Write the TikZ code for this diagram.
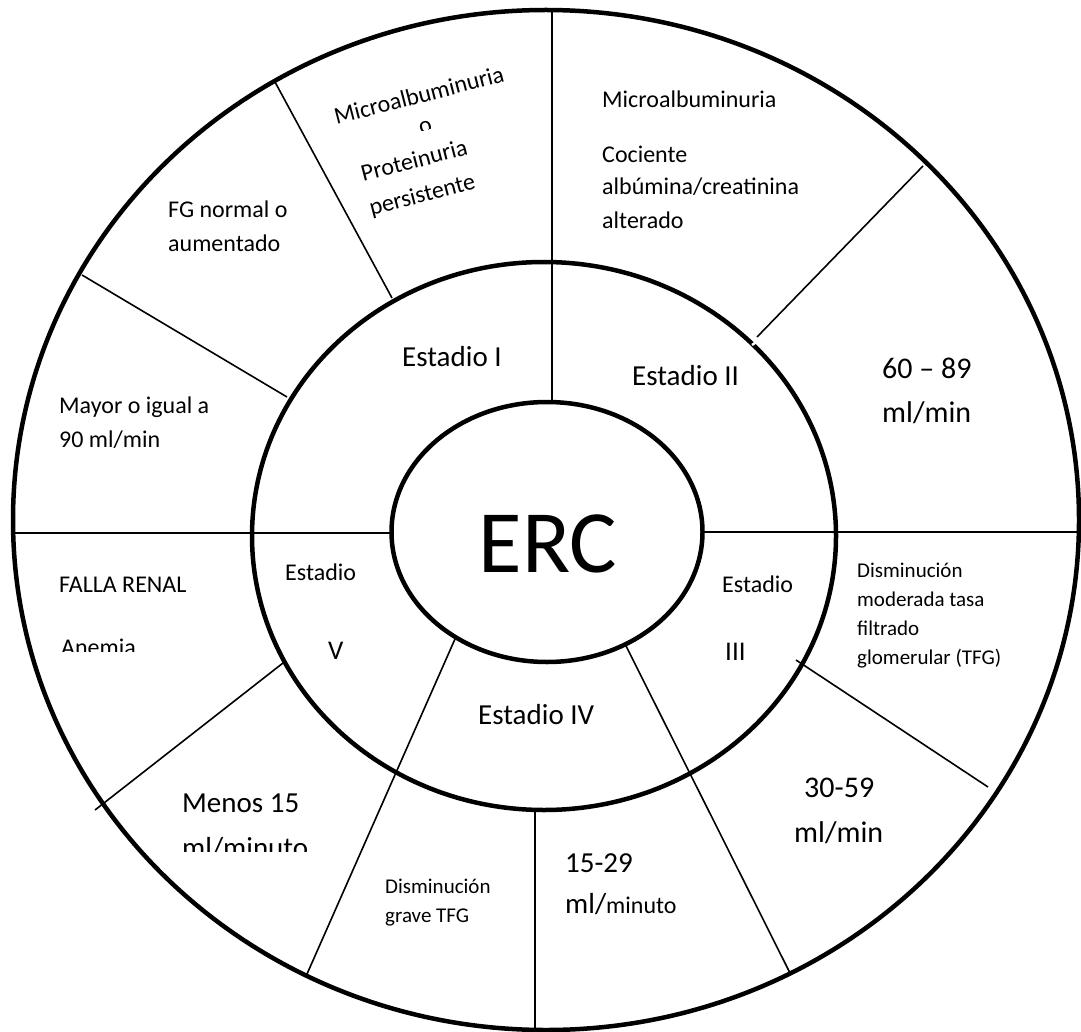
\documentclass[tikz,border=0pt]{standalone}
\usepackage{fontspec}
\setmainfont{Carlito}
\newcommand\fsz[1]{\fontsize{#1}{#1}\selectfont}
\begin{document}
\begin{tikzpicture}[x=1pt,y=-1pt,
  ring/.style={line width=4.5pt},
  spoke/.style={line width=1.6pt},
  txt/.style={anchor=base west, inner sep=0pt, font=\fsz{24}},
  txtbig/.style={txt, font=\fsz{30}},
  txtmid/.style={txt, font=\fsz{29}},
  txtnum/.style={txt, font=\fsz{27}},
  txtsmall/.style={txt, font=\fsz{21}},
  tilted/.style={anchor=base, inner sep=0pt, font=\fsz{24}, rotate=14.5}
]
\fill[white] (0,0) rectangle (1081,1032);
\useasboundingbox (0,0) rectangle (1081,1032);

% spoke end points
\coordinate (n0) at (552,10);    \coordinate (n1) at (552,402);
\coordinate (a0) at (275,82);    \coordinate (a1) at (392,298);
\coordinate (b0) at (82,275);    \coordinate (b1) at (287,397);
\coordinate (w0) at (13,533);    \coordinate (w1) at (392,533);
\coordinate (e0) at (702,532);   \coordinate (e1) at (1079,532);
\coordinate (ne0) at (923,166);  \coordinate (ne1) at (757,337);
\coordinate (se0) at (796,660);  \coordinate (se1) at (988,787);
\coordinate (s0) at (621,636);   \coordinate (s1) at (790,973);
\coordinate (d0) at (535,810);   \coordinate (d1) at (535,1030);
\coordinate (sw0) at (455,639);  \coordinate (sw1) at (307,974);
\coordinate (ww0) at (283,663);  \coordinate (ww1) at (95,810);

% radial dividers
\draw[spoke] (n0) -- (n1);
\draw[spoke] (a0) -- (a1);
\draw[spoke] (b0) -- (b1);
\draw[spoke] (w0) -- (w1);
\draw[spoke] (e0) -- (e1);
\draw[spoke] (ne0) -- (ne1);
\draw[spoke] (se0) -- (se1);
\draw[spoke] (s0) -- (s1);
\draw[spoke] (d0) -- (d1);
\draw[spoke] (sw0) -- (sw1);
\draw[spoke] (ww0) -- (ww1);

% rings
\draw[ring] (546,520) ellipse [x radius=533pt, y radius=510pt];
\draw[ring] (544,536) ellipse [x radius=292pt, y radius=274pt];
\draw[ring,fill=white] (547,532) ellipse [x radius=155.5pt, y radius=130pt];
% small break in the middle ring where the divider meets it
\draw[white, line width=2.5pt] (752,345) -- (762,338);

% centre
\begin{scope}
  \clip (380,440) rectangle (720,573);
  \node[anchor=base, inner sep=0pt, font=\fsz{89}] (erc) at (548,572) {ERC};
\end{scope}

% stages
\node[txtmid] (st1) at (402,366) {Estadio I};
\node[txtmid] (st2) at (632,385) {Estadio II};
\node[txt] (st3a) at (722,592) {Estadio};
\node[txtnum] (st3b) at (725,660) {III};
\node[txtmid] (st4) at (478,724) {Estadio IV};
\node[txt] (st5a) at (285,580) {Estadio};
\node[txtnum] (st5b) at (328,659) {V};

% stage I
\node[txt] (fg1) at (168,218) {FG normal o};
\node[txt] (fg2) at (168,252) {aumentado};
\node[txt] (my1) at (59,413) {Mayor o igual a};
\node[txt] (my2) at (59,447) {90 ml/min};
\node[tilted] (pr1) at (421,103) {Microalbuminuria};
\begin{scope}[shift={(427,133.4)}, rotate=14.5]
  \clip (-15,-30) rectangle (15,-4);
  \node[tilted] (pr2) at (0,0) {o};
\end{scope}
\node[tilted] (pr3) at (416,168) {Proteinuria};
\node[tilted] (pr4) at (424,202) {persistente};

% stage II
\node[txt] (mc1) at (602,108) {Microalbuminuria};
\node[txt] (mc2) at (602,163) {Cociente};
\node[txt] (mc3) at (602,195) {albúmina/creatinina};
\node[txt] (mc4) at (602,229) {alterado};
\node[txtbig] (r2a) at (882,378) {60 – 89};
\node[txtbig] (r2b) at (882,422) {ml/min};

% stage III
\node[txtsmall] (dm1) at (857,577) {Disminución};
\node[txtsmall] (dm2) at (857,606) {moderada tasa};
\node[txtsmall] (dm3) at (857,635) {filtrado};
\node[txtsmall] (dm4) at (857,664) {glomerular (TFG)};
\node[txtbig] (r3a) at (804,797) {30-59};
\node[txtbig] (r3b) at (794,842) {ml/min};

% stage IV
\node[txtsmall] (dg1) at (385,893) {Disminución};
\node[txtsmall] (dg2) at (385,922) {grave TFG};
\node[txtmid] (r4a) at (565,872) {15-29};
\node[txtmid] (r4b) at (565,913) {ml/{\fsz{24}minuto}};

% stage V
\node[txt] (fr1) at (59,592) {FALLA RENAL};
\begin{scope}
  \clip (50,620) rectangle (200,651);
  \node[txt] (fr2) at (61,655) {Anemia};
\end{scope}
\node[txtmid] (r5a) at (182,812) {Menos 15};
\begin{scope}
  \clip (170,820) rectangle (320,851);
  \node[txtmid] (r5b) at (182,857) {ml/minuto};
\end{scope}
\end{tikzpicture}
\end{document}
